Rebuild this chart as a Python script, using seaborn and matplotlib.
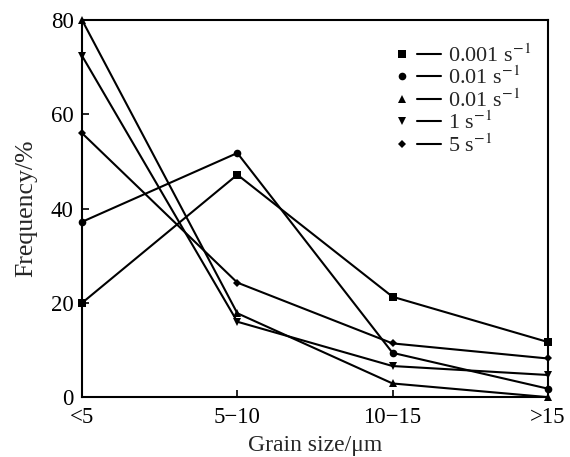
import pandas as pd
import seaborn as sns
import matplotlib.pyplot as plt
from matplotlib.lines import Line2D
from matplotlib.legend_handler import HandlerTuple

# grain size bins and frequency (%) per strain rate
grain_bins = ['<5', '5\u221210', '10\u221215', '>15']
rate_labels = ['0.001 s$^{-1}$', '0.01 s$^{-1}$', '0.01 s$^{-1}$', '1 s$^{-1}$', '5 s$^{-1}$']
freq_0001 = [20, 47.2, 21.3, 11.7]
freq_001 = [37.2, 51.8, 9.4, 1.8]
freq_001b = [80, 17.8, 2.9, 0]
freq_1 = [72.4, 16.0, 6.6, 4.7]
freq_5 = [56, 24.3, 11.4, 8.2]
markers = ['s', 'o', '^', 'v', 'D']

#%%
series = [freq_0001, freq_001, freq_001b, freq_1, freq_5]
rows = []
for i, vals in enumerate(series):
    for j, v in enumerate(vals):
        rows.append({'series': i, 'pos': j, 'freq': v})
df = pd.DataFrame(rows)

sns.set_style('ticks')
plt.rcParams['font.family'] = ['Liberation Serif', 'DejaVu Serif']
plt.rcParams['mathtext.fontset'] = 'stix'

fig = plt.figure(figsize=(5.7, 4.57), dpi=100)
ax = fig.add_axes([0.144, 0.131, 0.817, 0.825])

ms = {0: 5.5, 1: 5.5, 2: 5.5, 3: 5.5, 4: 4}
for i in range(len(series)):
    sub = df[df.series == i]
    sns.lineplot(data=sub, x='pos', y='freq', ax=ax, color='black', lw=1.5,
                 marker=markers[i], markersize=ms[i], markeredgewidth=0,
                 legend=False, clip_on=False, zorder=3)

ax.set_xlim(0, 3)
ax.set_ylim(0, 80)
ax.set_xticks(range(4))
ax.set_xticklabels(grain_bins)
ax.set_yticks([0, 20, 40, 60, 80])
ax.tick_params(direction='in', length=5, width=1.2, labelsize=16.5, colors='black', pad=6)
ax.tick_params(axis='x', pad=7)
for s in ax.spines.values():
    s.set_linewidth(1.5)
    s.set_color('black')
ax.set_xlabel('Grain size/\u03bcm', fontsize=17, labelpad=5)
ax.set_ylabel('Frequency/%', fontsize=18.5, labelpad=10)

handles = []
for i in range(len(series)):
    mk = Line2D([], [], color='black', marker=markers[i], markersize=ms[i], lw=0, markeredgewidth=0)
    ln = Line2D([], [], color='black', lw=1.5)
    handles.append((mk, ln))
ax.legend(handles, rate_labels, handler_map={tuple: HandlerTuple(ndivide=None, pad=0.1)},
          loc='upper right', bbox_to_anchor=(1.012, 0.995), frameon=False, fontsize=16,
          handlelength=2.3, handletextpad=0.3, labelspacing=0.0, borderaxespad=0.6)

fig.savefig('out.png', dpi=100)
